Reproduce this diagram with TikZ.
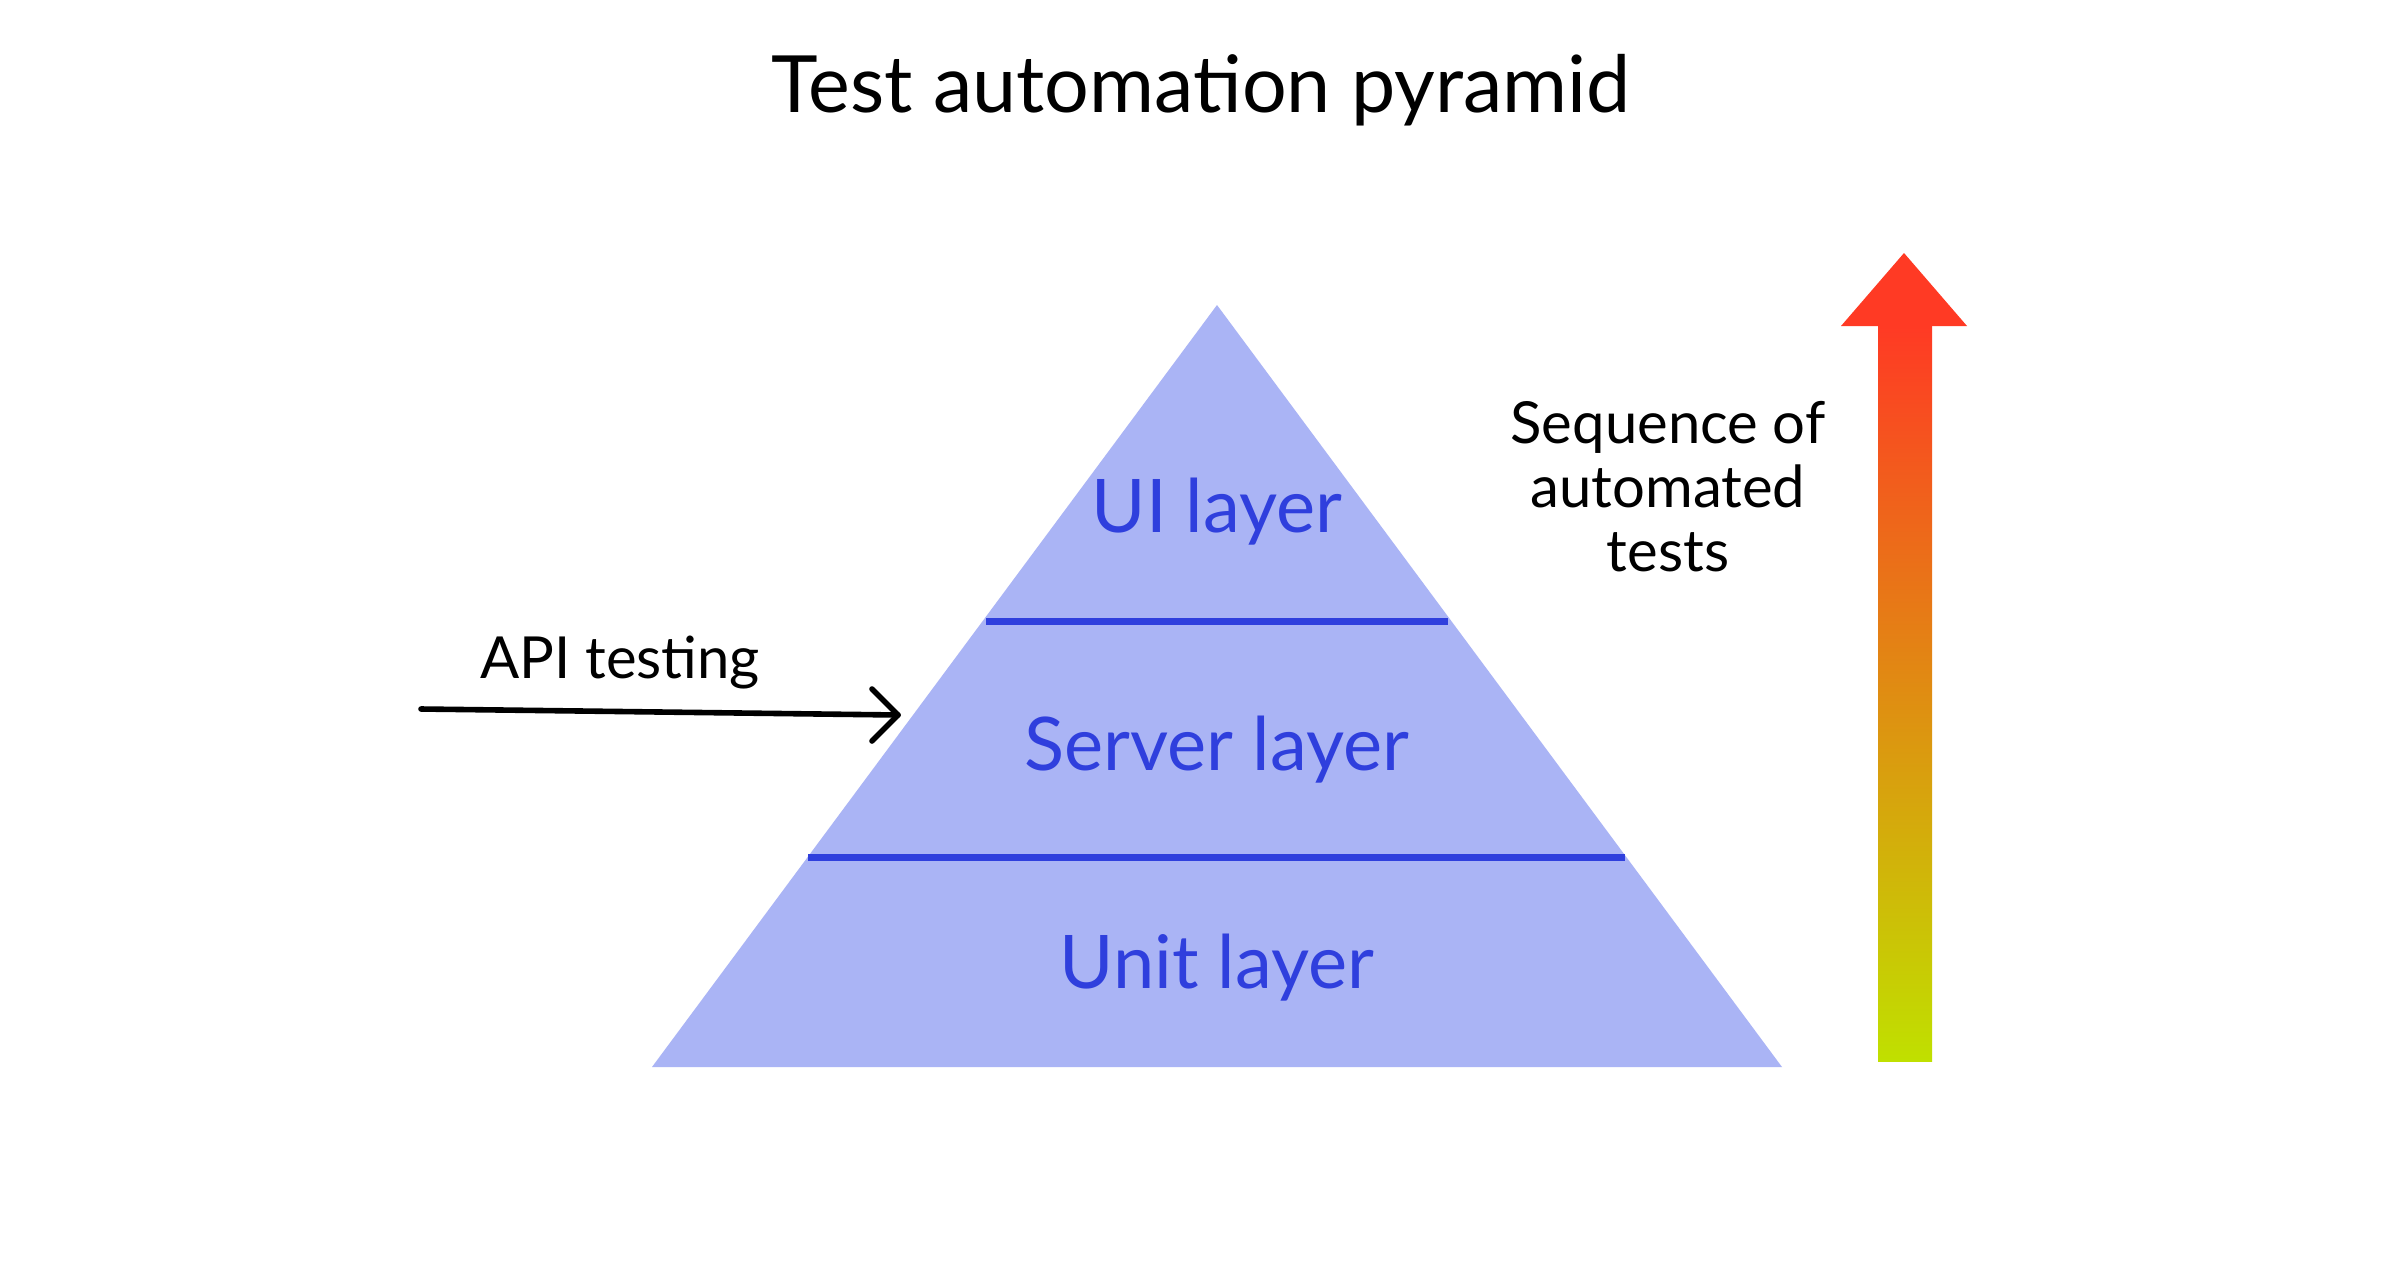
\documentclass[tikz,border=0pt]{standalone}
\usepackage{fontspec}
\setmainfont{Lato}
\definecolor{pyr}{HTML}{AAB4F5}
\definecolor{blu}{HTML}{2F3FDD}
\definecolor{rd}{HTML}{FF3A24}
\definecolor{yg}{HTML}{C0E000}
\begin{document}
\begin{tikzpicture}[x=0.5pt,y=-0.5pt,
  lay/.style={text=blu,font=\fontsize{37}{42}\selectfont},
  lbl/.style={text=black,font=\fontsize{29}{32}\selectfont,align=center}]
\useasboundingbox (0,0) rectangle (2400,1260);
\fill[white] (0,0) rectangle (2400,1260);
\node[font=\fontsize{39.5}{44}\selectfont] (title) at (1201,90) {Test automation pyramid};
\coordinate (apex) at (1217,305);
\coordinate (bl) at (652,1067);
\coordinate (br) at (1782,1067);
\fill[pyr] (apex) -- (br) -- (bl) -- cycle;
\draw[blu,line width=3.5pt] (986,621) -- (1448,621);
\draw[blu,line width=3.5pt] (808,857) -- (1625,857);
\node[lay] (ui) at (1217,512) {UI layer};
\node[lay] (srv) at (1217,750) {Server layer};
\node[lay] (unit) at (1217,968) {Unit layer};
\coordinate (as) at (421,709);
\coordinate (ae) at (898,715);
\draw[line width=2.8pt,line cap=round] (as) -- (ae);
\draw[line width=2.8pt,line cap=round,line join=round] (872,689) -- (ae) -- (872,741);
\node[lbl] (api) at (620,663) {API testing};
\shade[top color=rd,bottom color=yg] (1878,326) rectangle (1932,1061);
\fill[rd] (1841,326) -- (1904,253) -- (1967,326) -- cycle;
\node[lbl] (seq) at (1668,487) {Sequence of\\automated\\tests};
\end{tikzpicture}
\end{document}
